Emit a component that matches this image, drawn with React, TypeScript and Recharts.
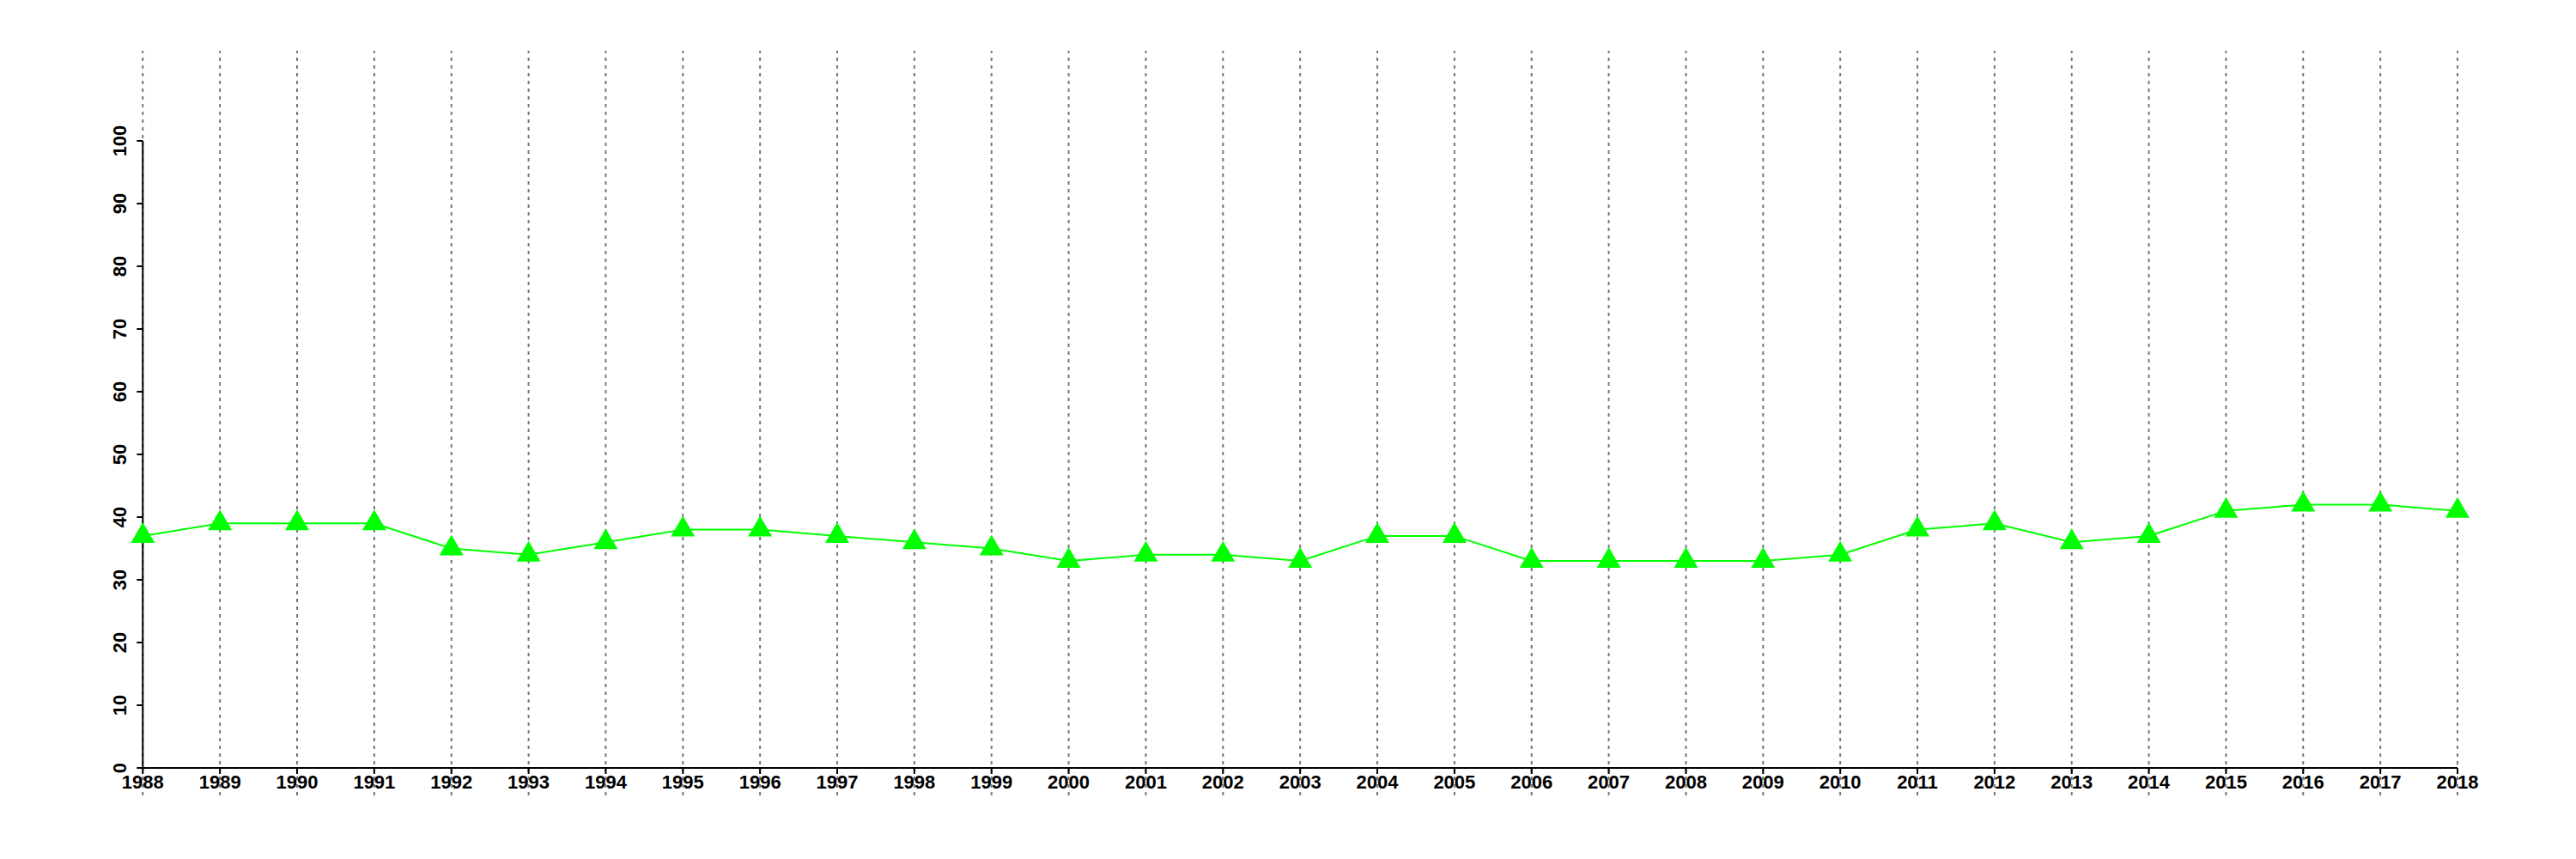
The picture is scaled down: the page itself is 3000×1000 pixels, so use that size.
import { LineChart, Line, XAxis, YAxis, ReferenceLine } from 'recharts'

const years = [
  1988, 1989, 1990, 1991, 1992, 1993, 1994, 1995, 1996, 1997, 1998,
  1999, 2000, 2001, 2002, 2003, 2004, 2005, 2006, 2007, 2008, 2009,
  2010, 2011, 2012, 2013, 2014, 2015, 2016, 2017, 2018,
]
const values = [
  37, 39, 39, 39, 35, 34, 36, 38, 38, 37, 36,
  35, 33, 34, 34, 33, 37, 37, 33, 33, 33, 33,
  34, 38, 39, 36, 37, 41, 42, 42, 41,
]
const yTicks = [0, 10, 20, 30, 40, 50, 60, 70, 80, 90, 100]
// grid lines run past the axes, over the whole plot region
const gridSpan = [-4.4, 114.4]

const data = years.map((year, i) => ({ year, value: values[i] }))

const FONT = '"Liberation Sans", Arial, Helvetica, sans-serif'
const GREEN = '#00ff00'

function XTick({ x, y, payload }: any) {
  return (
    <text x={x} y={y + 17} textAnchor="middle" fontSize={22} fontWeight="bold" fontFamily={FONT} fill="#000">
      {payload.value}
    </text>
  )
}

function YTick({ x, y, payload }: any) {
  const tx = x - 12.5
  return (
    <text x={tx} y={y} transform={`rotate(-90, ${tx}, ${y})`} textAnchor="middle" fontSize={22} fontWeight="bold" fontFamily={FONT} fill="#000">
      {payload.value}
    </text>
  )
}

function Triangle({ cx, cy, index }: any) {
  if (cx == null || cy == null) return <g key={index} />
  return (
    <polygon
      key={index}
      points={`${cx},${cy - 16} ${cx + 14},${cy + 8} ${cx - 14},${cy + 8}`}
      fill={GREEN}
    />
  )
}

export default function App() {
  return (
    <div>
      <style>{'body{margin:0}'}</style>
      <LineChart width={3000} height={1000} data={data} margin={{ top: 164, right: 138, bottom: 66, left: 106.3 }}>
        <XAxis
          type="number"
          dataKey="year"
          domain={[1988, 2018]}
          ticks={years}
          interval={0}
          height={40}
          tickSize={7}
          tickMargin={0}
          axisLine={{ stroke: '#000', strokeWidth: 2 }}
          tickLine={{ stroke: '#000', strokeWidth: 2 }}
          tick={<XTick />}
        />
        <YAxis
          type="number"
          domain={[0, 100]}
          ticks={yTicks}
          interval={0}
          width={60}
          tickSize={7}
          tickMargin={0}
          axisLine={{ stroke: '#000', strokeWidth: 2 }}
          tickLine={{ stroke: '#000', strokeWidth: 2 }}
          tick={<YTick />}
        />
        <Line
          type="linear"
          dataKey="value"
          stroke={GREEN}
          strokeWidth={2}
          dot={(p: any) => <Triangle key={p.index} {...p} />}
          activeDot={false}
          isAnimationActive={false}
        />
        {years.map((yr) => (
          <ReferenceLine
            key={yr}
            segment={[{ x: yr, y: gridSpan[0] }, { x: yr, y: gridSpan[1] }]}
            ifOverflow="visible"
            stroke="#777"
            strokeWidth={2}
            strokeDasharray="4 5"
          />
        ))}
      </LineChart>
    </div>
  )
}
